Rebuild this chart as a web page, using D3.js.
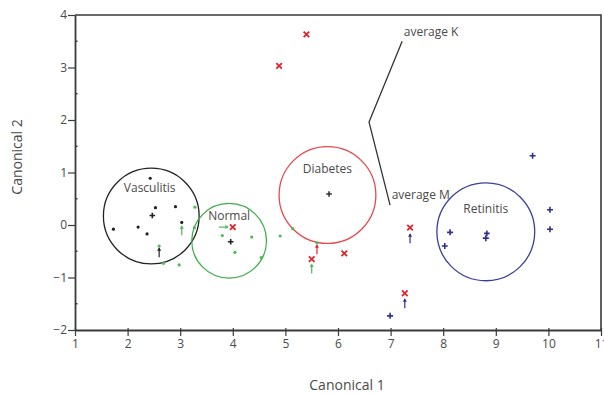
<!DOCTYPE html>
<html>
<head>
<meta charset="utf-8">
<script src="https://cdn.jsdelivr.net/npm/d3@7"></script>
<style>
  body { margin: 0; background: #fff; }
  svg { display: block; font-family: "Open Sans", "DejaVu Sans", sans-serif; }
</style>
</head>
<body>
<svg width="604" height="394"></svg>
<script>
// axis ticks
const xTicks = [1, 2, 3, 4, 5, 6, 7, 8, 9, 10, 11];
const yTicks = [-2, -1, 0, 1, 2, 3, 4];

// group data points [canonical 1, canonical 2]
const vasculitisPts = [[2.43, 0.89], [2.53, 0.33], [2.91, 0.35], [3.03, 0.05], [1.73, -0.08], [2.2, -0.04], [2.37, -0.17]];
const normalPts = [[3.28, 0.34], [3.27, -0.05], [2.6, -0.4], [3.8, -0.2], [4.36, -0.23], [4.04, -0.52], [2.68, -0.73],
                   [2.98, -0.76], [4.9, -0.21], [5.14, -0.07], [5.6, -0.34], [4.54, -0.62]];
const diabetesPts = [[4.0, -0.04], [5.5, -0.65], [6.12, -0.54], [7.37, -0.05], [5.4, 3.63], [4.88, 3.03], [7.27, -1.3]];
const retinitisPts = [[9.7, 1.32], [10.03, 0.29], [10.03, -0.08], [8.13, -0.14], [8.81, -0.25], [8.03, -0.4], [6.99, -1.73]];

// group centroids and circles (radius in canonical units)
const groups = ["Vasculitis", "Normal", "Diabetes", "Retinitis"];
const groupColors = ["#222222", "#3fae49", "#e8474c", "#3b3f9a"];
const centroids = [[2.47, 0.18], [3.96, -0.32], [5.83, 0.59], [8.83, -0.16]];
const centroidColors = ["#222222", "#222222", "#333333", "#2e2f8c"];
const circleCenters = [[2.45, 0.17], [3.93, -0.3], [5.8, 0.57], [8.81, -0.13]];
const circleRadius = [0.91, 0.71, 0.92, 0.93];
const labelPos = [[2.42, 0.62], [3.93, 0.1], [5.8, 0.99], [8.81, 0.23]];

// arrows [x, y, direction, colour index]
const arrows = [[2.6, -0.52, "up", 0], [3.03, -0.1, "up", 1], [3.83, -0.04, "right", 1], [5.6, -0.46, "up", 2],
                [5.5, -0.83, "up", 1], [7.37, -0.25, "up", 3], [7.27, -1.49, "up", 3]];

// annotation
const avgLine = [[7.22, 3.5], [6.59, 1.96], [6.99, 0.38]];
const avgLabels = ["average K", "average M"];
const avgLabelPos = [[7.25, 3.68], [7.02, 0.57]];

const svg = d3.select("svg");
const m = { left: 75, right: 601, top: 15, bottom: 330 };

const x = d3.scaleLinear().domain([1, 11]).range([m.left, m.right]);
const y = d3.scaleLinear().domain([-2, 4]).range([m.bottom, m.top]);

// minor ticks
const minorY = d3.range(-1.5, 4, 1);

const axisColor = "#3a3a3a";
const textColor = "#4a4a4a";

// frame (top and right)
svg.append("path")
  .attr("d", `M${m.left},${m.top}H${m.right}V${m.bottom}`)
  .attr("fill", "none").attr("stroke", axisColor).attr("stroke-width", 1.6);

const gx = svg.append("g").attr("transform", `translate(0,${m.bottom})`)
  .call(d3.axisBottom(x).tickValues(xTicks).tickFormat(d3.format("d")).tickSize(6).tickSizeOuter(0));
const gy = svg.append("g").attr("transform", `translate(${m.left},0)`)
  .call(d3.axisLeft(y).tickValues(yTicks).tickFormat(d3.format("d")).tickSize(7).tickSizeOuter(0));

[gx, gy].forEach(g => {
  g.select(".domain").attr("stroke", axisColor).attr("stroke-width", 1.8);
  g.selectAll(".tick line").attr("stroke", axisColor).attr("stroke-width", 1.2);
  g.selectAll(".tick text").attr("fill", textColor).attr("font-size", 12)
    .attr("font-family", "'Open Sans', sans-serif");
});
gy.selectAll(".tick text").attr("x", -8);
gx.selectAll(".tick text").attr("y", 9);
gx.selectAll(".tick line").attr("y1", -2);

svg.append("g").selectAll("line").data(minorY).join("line")
  .attr("x1", m.left).attr("x2", m.left + 2.5)
  .attr("y1", d => y(d)).attr("y2", d => y(d))
  .attr("stroke", axisColor).attr("stroke-width", 1.5);

// axis titles
svg.append("text").attr("x", 347).attr("y", 390).attr("text-anchor", "middle")
  .attr("font-size", 14).attr("fill", textColor).text("Canonical 1");
svg.append("text").attr("transform", "translate(22,157) rotate(-90)").attr("text-anchor", "middle")
  .attr("font-size", 14).attr("fill", textColor).text("Canonical 2");

// circles
const rpx = (d, i) => x(d[0] + circleRadius[i]) - x(d[0]);
svg.append("g").selectAll("circle").data(circleCenters).join("circle")
  .attr("cx", d => x(d[0])).attr("cy", d => y(d[1]))
  .attr("r", rpx)
  .attr("fill", "none")
  .attr("stroke", (d, i) => groupColors[i])
  .attr("stroke-width", 1.3);

// group labels
svg.append("g").selectAll("text").data(groups).join("text")
  .attr("x", (d, i) => x(labelPos[i][0])).attr("y", (d, i) => y(labelPos[i][1]))
  .attr("text-anchor", "middle").attr("font-size", 12).attr("fill", textColor)
  .text(d => d);

// dots
function dots(data, color) {
  svg.append("g").selectAll("circle").data(data).join("circle")
    .attr("cx", d => x(d[0])).attr("cy", d => y(d[1])).attr("r", 1.6).attr("fill", color);
}
dots(vasculitisPts, groupColors[0]);
dots(normalPts, "#4fb857");

// crosses (+)
function plus(data, color, s) {
  svg.append("g").selectAll("path").data(data).join("path")
    .attr("d", d => `M${x(d[0]) - s},${y(d[1])}h${2 * s}M${x(d[0])},${y(d[1]) - s}v${2 * s}`)
    .attr("stroke", typeof color === "function" ? null : color)
    .attr("stroke", color).attr("stroke-width", 1.6);
}
plus(retinitisPts, "#2e2f8c", 3);

// x marks
svg.append("g").selectAll("path").data(diabetesPts).join("path")
  .attr("d", d => `M${x(d[0]) - 2.8},${y(d[1]) - 2.8}l5.6,5.6M${x(d[0]) + 2.8},${y(d[1]) - 2.8}l-5.6,5.6`)
  .attr("stroke", "#e0242e").attr("stroke-width", 1.8);

// centroids
plus(centroids, (d, i) => centroidColors[i], 2.8);

// arrows
const arrowColors = ["#222222", "#4fb857", "#e0242e", "#2e2f8c"];
const ag = svg.append("g");
arrows.forEach(a => {
  const px = x(a[0]), py = y(a[1]), c = arrowColors[a[3]];
  if (a[2] === "up") {
    ag.append("path").attr("d", `M${px},${py + 5}V${py - 4}`).attr("stroke", c).attr("stroke-width", 1.2);
    ag.append("path").attr("d", `M${px - 2},${py - 1.5}L${px},${py - 5}L${px + 2},${py - 1.5}Z`).attr("fill", c);
  } else {
    ag.append("path").attr("d", `M${px - 5},${py}H${px + 4}`).attr("stroke", c).attr("stroke-width", 1.2);
    ag.append("path").attr("d", `M${px + 1.5},${py - 2}L${px + 5},${py}L${px + 1.5},${py + 2}Z`).attr("fill", c);
  }
});

// annotation line
svg.append("path")
  .attr("d", d3.line().x(d => x(d[0])).y(d => y(d[1]))(avgLine))
  .attr("fill", "none").attr("stroke", "#333").attr("stroke-width", 1.3);
svg.append("g").selectAll("text").data(avgLabels).join("text")
  .attr("x", (d, i) => x(avgLabelPos[i][0])).attr("y", (d, i) => y(avgLabelPos[i][1]))
  .attr("dy", "0.35em").attr("font-size", 12).attr("fill", textColor)
  .text(d => d);
</script>
</body>
</html>
